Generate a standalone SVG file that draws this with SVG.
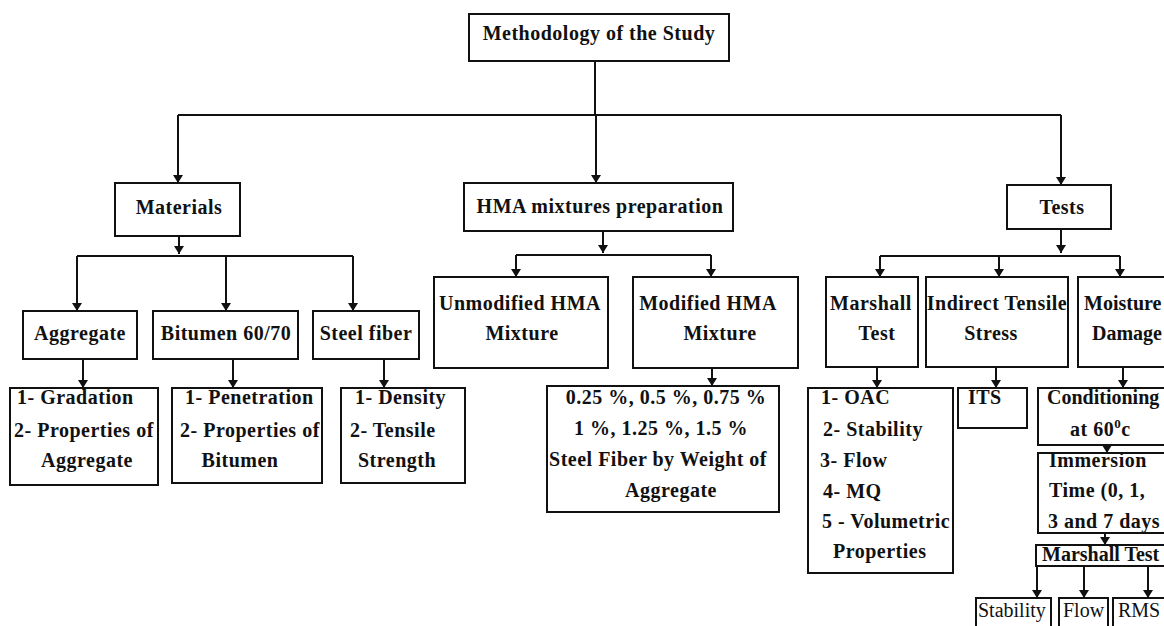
<svg xmlns="http://www.w3.org/2000/svg" width="1164" height="626" viewBox="0 0 1164 626">
<style>
.box{fill:#fff;stroke:#111;stroke-width:2}
.t{font-family:"Liberation Serif","Times New Roman",serif;font-weight:bold;font-size:20px;letter-spacing:0.5px;fill:#111}
.e{letter-spacing:0}
.n{font-family:"Liberation Serif","Times New Roman",serif;font-weight:normal;font-size:20px;fill:#111}
.c{text-anchor:middle}
.ln{fill:none;stroke:#111;stroke-width:2}
</style>
<defs>
<marker id="ah" markerUnits="userSpaceOnUse" markerWidth="8" markerHeight="10" viewBox="0 0 8 10" refX="8" refY="5" orient="auto">
<path d="M0,0 L8,5 L0,10 z" fill="#111"/>
</marker>
</defs>
<rect width="1164" height="626" fill="#fff"/>
<g id="connectors">
<path class="ln" d="M595,61 V115"/>
<path class="ln" d="M178,115 H1061"/>
<path class="ln" d="M178,115 V183" marker-end="url(#ah)"/>
<path class="ln" d="M596,115 V183" marker-end="url(#ah)"/>
<path class="ln" d="M1061,115 V185" marker-end="url(#ah)"/>
<path class="ln" d="M179,236 V254" marker-end="url(#ah)"/>
<path class="ln" d="M77,256 H353"/>
<path class="ln" d="M77,256 V311" marker-end="url(#ah)"/>
<path class="ln" d="M226,256 V311" marker-end="url(#ah)"/>
<path class="ln" d="M353,256 V311" marker-end="url(#ah)"/>
<path class="ln" d="M603,231 V253" marker-end="url(#ah)"/>
<path class="ln" d="M516,255 H711"/>
<path class="ln" d="M516,255 V277" marker-end="url(#ah)"/>
<path class="ln" d="M711,255 V277" marker-end="url(#ah)"/>
<path class="ln" d="M1061,229 V253" marker-end="url(#ah)"/>
<path class="ln" d="M880,256 H1120"/>
<path class="ln" d="M880,256 V277" marker-end="url(#ah)"/>
<path class="ln" d="M999,256 V277" marker-end="url(#ah)"/>
<path class="ln" d="M1120,256 V277" marker-end="url(#ah)"/>
<path class="ln" d="M83,359 V388" marker-end="url(#ah)"/>
<path class="ln" d="M233,359 V388" marker-end="url(#ah)"/>
<path class="ln" d="M384,359 V388" marker-end="url(#ah)"/>
<path class="ln" d="M712,368 V386" marker-end="url(#ah)"/>
<path class="ln" d="M877,367 V388" marker-end="url(#ah)"/>
<path class="ln" d="M996,367 V388" marker-end="url(#ah)"/>
<path class="ln" d="M1123,367 V388" marker-end="url(#ah)"/>
<path class="ln" d="M1107,445 V453" marker-end="url(#ah)"/>
<path class="ln" d="M1105,533 V545" marker-end="url(#ah)"/>
<path class="ln" d="M1037,566 V598" marker-end="url(#ah)"/>
<path class="ln" d="M1084,566 V598" marker-end="url(#ah)"/>
<path class="ln" d="M1148,566 V598" marker-end="url(#ah)"/>
</g>
<g id="methodology"><rect class="box" x="469" y="14" width="260" height="47"/><text class="t c" x="599" y="40">Methodology of the Study</text></g>
<g id="materials"><rect class="box" x="115" y="183" width="125" height="53"/><text class="t c" x="179" y="214">Materials</text></g>
<g id="hma"><rect class="box" x="464" y="183" width="269" height="48"/><text class="t c" x="600" y="213">HMA mixtures preparation</text></g>
<g id="tests"><rect class="box" x="1007" y="185" width="104" height="44"/><text class="t c" x="1062" y="214">Tests</text></g>
<g id="aggregate"><rect class="box" x="23" y="311" width="114" height="48"/><text class="t c" x="80" y="340">Aggregate</text></g>
<g id="bitumen"><rect class="box" x="153" y="311" width="145" height="48"/><text class="t c" x="226" y="340">Bitumen 60/70</text></g>
<g id="steelfiber"><rect class="box" x="313" y="311" width="106" height="48"/><text class="t c" x="366" y="340">Steel fiber</text></g>
<g id="unmodified"><rect class="box" x="434" y="277" width="174" height="91"/><text class="t c" x="520" y="310">Unmodified HMA</text><text class="t c" x="522" y="340">Mixture</text></g>
<g id="modified"><rect class="box" x="633" y="277" width="165" height="91"/><text class="t c" x="708" y="310">Modified HMA</text><text class="t c" x="720" y="340">Mixture</text></g>
<g id="marshall"><rect class="box" x="826" y="277" width="92" height="90"/><text class="t c" x="871" y="310">Marshall</text><text class="t c" x="877" y="340">Test</text></g>
<g id="indirect"><rect class="box" x="926" y="277" width="142" height="90"/><text class="t c" x="997" y="310">Indirect Tensile</text><text class="t c" x="991" y="340">Stress</text></g>
<g id="moisture"><rect class="box" x="1078" y="277" width="100" height="90"/><text class="t e" x="1084" y="310">Moisture</text><text class="t e" x="1092" y="340">Damage</text></g>
<g id="aggregate-props"><rect class="box" x="10" y="388" width="148" height="97"/><text class="t" x="17" y="404">1- Gradation</text><text class="t" x="14" y="437">2- Properties of</text><text class="t c" x="87" y="467">Aggregate</text></g>
<g id="bitumen-props"><rect class="box" x="172" y="388" width="150" height="95"/><text class="t" x="185" y="404">1- Penetration</text><text class="t" x="180" y="437">2- Properties of</text><text class="t c" x="240" y="467">Bitumen</text></g>
<g id="steel-props"><rect class="box" x="341" y="388" width="124" height="95"/><text class="t" x="355" y="404">1- Density</text><text class="t" x="350" y="437">2- Tensile</text><text class="t" x="358" y="467">Strength</text></g>
<g id="fiber-content"><rect class="box" x="547" y="386" width="232" height="126"/><text class="t c" x="666" y="404">0.25 %, 0.5 %, 0.75 %</text><text class="t c" x="661" y="435">1 %, 1.25 %, 1.5 %</text><text class="t c" x="658" y="466">Steel Fiber by Weight of</text><text class="t c" x="671" y="497">Aggregate</text></g>
<g id="marshall-props"><rect class="box" x="808" y="388" width="145" height="185"/><text class="t" x="821" y="404">1- OAC</text><text class="t" x="823" y="436">2- Stability</text><text class="t" x="820" y="467">3- Flow</text><text class="t" x="823" y="498">4- MQ</text><text class="t" x="822" y="528">5 - Volumetric</text><text class="t" x="833" y="558">Properties</text></g>
<g id="its"><rect class="box" x="958" y="388" width="69" height="40"/><text class="t" x="968" y="404">ITS</text></g>
<g id="conditioning"><rect class="box" x="1038" y="388" width="140" height="57"/><text class="t e" x="1047" y="404">Conditioning</text><text class="t" x="1070" y="436">at 60<tspan font-size="13" dy="-8">0</tspan><tspan dy="8">c</tspan></text></g>
<g id="immersion"><rect class="box" x="1038" y="453" width="140" height="80"/><text class="t" x="1049" y="467">Immersion</text><text class="t" x="1049" y="497">Time (0, 1,</text><text class="t" x="1048" y="528">3 and 7 days</text></g>
<g id="marshall-test2"><rect class="box" x="1036" y="545" width="142" height="21"/><text class="t e" x="1042" y="561" font-size="19.5">Marshall Test</text></g>
<g id="stability"><rect class="box" x="976" y="598" width="75" height="40"/><text class="n" x="978" y="617">Stability</text></g>
<g id="flow"><rect class="box" x="1059" y="598" width="49" height="40"/><text class="n" x="1063" y="617">Flow</text></g>
<g id="rms"><rect class="box" x="1113" y="598" width="60" height="40"/><text class="n" x="1118" y="617">RMS</text></g>
</svg>
